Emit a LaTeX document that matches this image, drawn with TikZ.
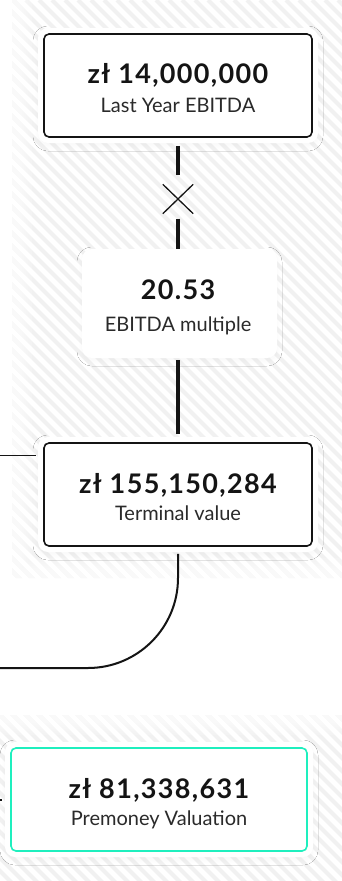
\documentclass[tikz,border=0pt]{standalone}
\usepackage{fontspec}
\setmainfont{Lato}
\newfontfamily\valfont[LetterSpace=5]{Lato}
\usetikzlibrary{shapes.misc,shadows.blur}
\definecolor{ink}{HTML}{141414}
\definecolor{subink}{HTML}{2A2A2A}
\definecolor{mint}{HTML}{1EEFBE}
\definecolor{stripe}{HTML}{F1F1F1}
\begin{document}
\begin{tikzpicture}[x=1pt,y=-1pt,
  halo/.style={fill=white, draw=none, rounded corners=10pt, inner sep=0pt,
    blur shadow={shadow xshift=0pt, shadow yshift=-3pt, shadow blur radius=5pt, shadow opacity=3}},
  card/.style={draw=ink, line width=1.6pt, fill=white, rounded corners=5pt, inner sep=0pt},
  mintcard/.style={card, draw=mint},
  valtext/.style={anchor=base, text=ink, font=\valfont\fontsize{27}{32}\selectfont\bfseries},
  captext/.style={anchor=base, text=subink, font=\fontsize{20}{24}\selectfont},
  wire/.style={draw=ink, line width=3.2pt},
  thinwire/.style={draw=ink, line width=1.4pt},
  curvewire/.style={draw=ink, line width=2pt},
  fadeedge/.style={draw=white, opacity=0.16},
]
\useasboundingbox (0,0) rectangle (342,881);
\fill[white] (0,0) rectangle (342,881);

% hatched backdrops
\begin{scope}
  \clip (12,0) rectangle (342,578) (0,715) rectangle (342,881);
  \foreach \i in {-72,...,27}
    \draw[stripe, line width=4pt] (\i*13,0) -- ++(900,900);
\end{scope}
% soften the backdrop edges
\foreach \w in {4,8,...,40} {
  \draw[fadeedge, line width=\w pt] (12,-30) -- (12,578) -- (380,578);
  \draw[fadeedge, line width=\w pt] (-30,715) -- (380,715);
}

% cards
\node[halo, minimum width=280pt, minimum height=115pt] (h1) at (178,85.5) {};
\node[card, minimum width=268pt, minimum height=103pt] (box1) at (178,85.5) {};
\node[valtext] (v1) at (178,83.5) {zł 14,000,000};
\node[captext] (c1) at (178,112) {Last Year EBITDA};

\node[halo, minimum width=195pt, minimum height=109pt] (box2) at (179.5,303.5) {};
\node[valtext] (v2) at (178,299) {20.53};
\node[captext] (c2) at (178,331) {EBITDA multiple};

\node[halo, minimum width=280pt, minimum height=115pt] (h3) at (178,494.5) {};
\node[card, minimum width=268pt, minimum height=103pt] (box3) at (178,494.5) {};
\node[valtext] (v3) at (178,493) {zł 155,150,284};
\node[captext] (c3) at (178,520) {Terminal value};

\node[halo, minimum width=308pt, minimum height=115pt] (h4) at (159,799.5) {};
\node[mintcard, minimum width=296pt, minimum height=103pt] (box4) at (159,799.5) {};
\node[valtext] (v4) at (159,798) {zł 81,338,631};
\node[captext] (c4) at (159,825) {Premoney Valuation};

% multiplication sign
\node[cross out, draw=ink, line width=1.3pt, minimum width=29pt, minimum height=28pt, inner sep=0pt] (mul) at (178,199) {};

% connectors (kept on the common vertical axis)
\draw[wire, shorten <=8pt, shorten >=9pt] (box1.south) -- (mul.north);
\draw[wire, shorten <=5pt] (mul.south) -- (mul.south |- box2.north);
\draw[wire, shorten <=2pt, shorten >=8pt] (box3.north |- box2.south) -- (box3.north);

\coordinate (feedA) at (0,455.5);
\draw[thinwire, shorten >=7pt] (feedA) -- (feedA -| box3.west);

\coordinate (bend) at (178,578);
\coordinate (outB) at (0,668);
\draw[curvewire, shorten <=7pt] (box3.south) -- (bend)
  .. controls (178,627.7) and (137.7,668) .. (88,668) -- (outB);

\coordinate (feedB) at (0,799.5);
\draw[thinwire, line width=2pt, shorten >=8pt] (feedB) -- (feedB -| box4.west);
\end{tikzpicture}
\end{document}
